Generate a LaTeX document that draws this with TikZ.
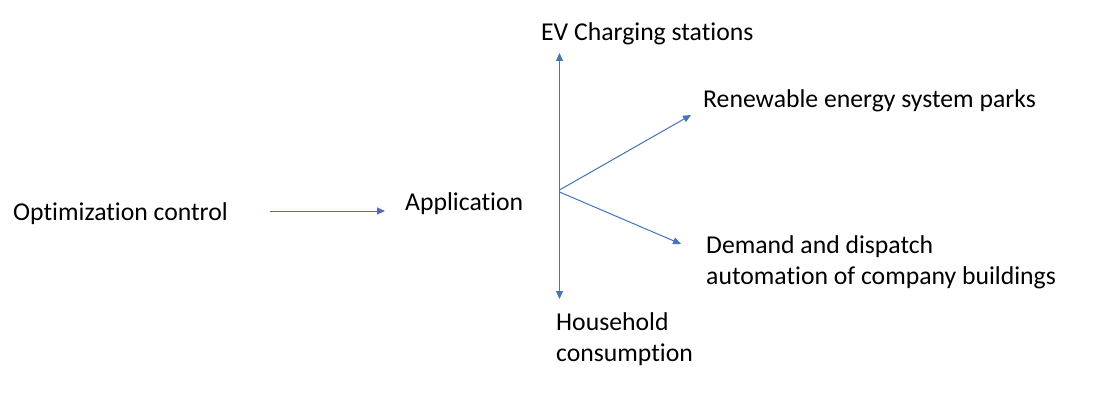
\documentclass[tikz,border=0pt]{standalone}
\usepackage{fontspec}
\setmainfont{Carlito}[Ligatures=NoCommon]
\usetikzlibrary{arrows.meta}
\definecolor{arrowblue}{HTML}{4472C4}
\tikzset{
  lbl/.style={anchor=west, inner sep=0pt, font=\fontsize{25.7}{31}\selectfont, align=left},
  conn/.style={draw=arrowblue, line width=1pt, -{Triangle[length=8pt,width=7pt]}}
}
\begin{document}
\begin{tikzpicture}[x=1pt,y=-1pt]
\useasboundingbox (0,0) rectangle (1103,412);
\node[lbl] (opt) at (13,214) {Optimization control};
\node[lbl] (app) at (405,204) {Application};
\node[lbl] (ev) at (541,34) {EV Charging stations};
\node[lbl] (ren) at (703,101) {Renewable energy system parks};
\node[lbl] (dem) at (706,262.5) {Demand and dispatch\\automation of company buildings};
\node[lbl] (hh) at (556,339.5) {Household\\consumption};
\coordinate (hub) at (559.5,190);
\coordinate (hubl) at (559.5,192);
\coordinate (evend) at (559.5,53);
\coordinate (hhend) at (559.5,299);
\coordinate (renend) at (691,115);
\coordinate (demend) at (681,244);
\coordinate (optend) at (270,211);
\coordinate (append) at (385,211);
\draw[conn] (optend) -- (append);
\draw[conn] (hub) -- (evend);
\draw[conn] (hub) -- (hhend);
\draw[conn] (hub) -- (renend);
\draw[conn] (hubl) -- (demend);
\end{tikzpicture}
\end{document}
